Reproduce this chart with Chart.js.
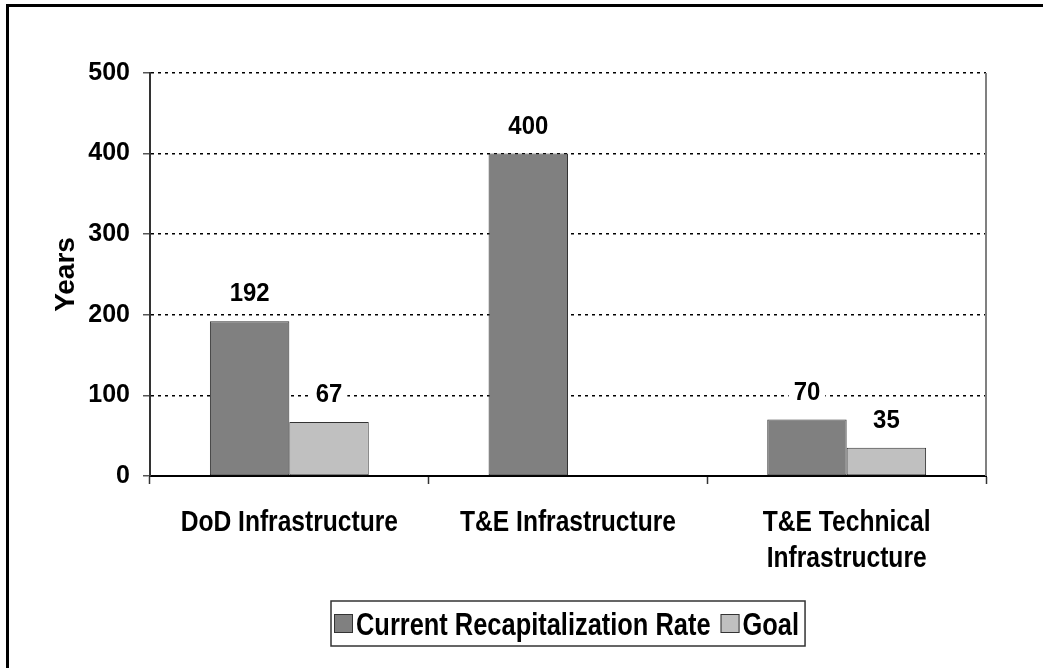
<!DOCTYPE html>
<html>
<head>
<meta charset="utf-8">
<script src="https://cdn.jsdelivr.net/npm/chart.js@4"></script>
<style>
  html, body { margin: 0; padding: 0; background: #fff; }
  #wrap { width: 1043px; height: 668px; position: relative; }
</style>
</head>
<body>
<div id="wrap"><canvas id="myChart" width="1043" height="668"></canvas></div>
<script>
// chart data
const categories = ['DoD Infrastructure', 'T&E Infrastructure', ['T&E Technical', 'Infrastructure']];
const currentRate = [192, 400, 70];
const goalRate = [67, null, 35];
const yTicks = [0, 100, 200, 300, 400, 500];

const fontFamily = "'Liberation Sans', Arial, sans-serif";
const narrowFont = 'bold 30px ' + fontFamily;
const legendFont = 'bold 31px ' + fontFamily;
const squeeze = 0.82; // the original text is a narrow bold face

function narrowText(ctx, text, x, y, align) {
	ctx.save();
	ctx.translate(x, y);
	ctx.scale(squeeze, 1);
	ctx.textAlign = align;
	ctx.fillText(text, 0, 0);
	ctx.restore();
}

// white page with the left and top frame lines, right edge of the plot
const framePlugin = {
	id: 'frame',
	beforeDraw(chart) {
		const ctx = chart.ctx;
		ctx.save();
		ctx.fillStyle = '#fff';
		ctx.fillRect(0, 0, chart.width, chart.height);
		ctx.fillStyle = '#000';
		ctx.fillRect(6, 4, 3, chart.height);
		ctx.fillRect(6, 4, chart.width, 3);
		ctx.restore();
	},
	afterDraw(chart) {
		const ctx = chart.ctx;
		const area = chart.chartArea;
		ctx.save();
		ctx.strokeStyle = '#808080';
		ctx.lineWidth = 2;
		ctx.beginPath();
		ctx.moveTo(area.right, area.top);
		ctx.lineTo(area.right, area.bottom);
		ctx.stroke();
		ctx.restore();
	}
};

// category names under the x axis, narrow face
const categoryLabels = {
	id: 'categoryLabels',
	afterDraw(chart) {
		const ctx = chart.ctx;
		const xs = chart.scales.x;
		const base = chart.chartArea.bottom;
		ctx.save();
		ctx.font = narrowFont;
		ctx.fillStyle = '#000';
		ctx.textBaseline = 'alphabetic';
		chart.data.labels.forEach((lab, i) => {
			const lines = Array.isArray(lab) ? lab : [lab];
			const x = xs.getPixelForTick(i);
			lines.forEach((ln, k) => narrowText(ctx, ln, x, base + 55 + k * 36, 'center'));
		});
		ctx.restore();
	}
};

// boxed legend under the axis (tight spacing like the original)
const boxLegend = {
	id: 'boxLegend',
	afterDraw(chart) {
		const ctx = chart.ctx;
		const area = chart.chartArea;
		const sq = 19, gap = 3, itemGap = 10, padL = 3, padR = 6;
		ctx.save();
		ctx.font = legendFont;
		ctx.textBaseline = 'alphabetic';
		const items = chart.data.datasets.map(ds => ({ text: ds.label, color: ds.backgroundColor, w: ctx.measureText(ds.label).width * squeeze }));
		let total = padL + padR;
		items.forEach((it, i) => { total += sq + gap + it.w + (i > 0 ? itemGap : 0); });
		const left = Math.round((area.left + area.right) / 2 - total / 2);
		const top = 601, h = 45, cy = top + h / 2;
		ctx.strokeStyle = '#333';
		ctx.lineWidth = 1.5;
		ctx.strokeRect(left, top, total, h);
		let x = left + padL;
		items.forEach((it, i) => {
			if (i > 0) x += itemGap;
			ctx.fillStyle = it.color;
			ctx.fillRect(x, cy - sq / 2, sq, sq);
			ctx.strokeStyle = '#333';
			ctx.lineWidth = 1;
			ctx.strokeRect(x + 0.5, cy - sq / 2 + 0.5, sq - 1, sq - 1);
			x += sq + gap;
			ctx.fillStyle = '#000';
			narrowText(ctx, it.text, x, cy + 11, 'left');
			x += it.w;
		});
		ctx.restore();
	}
};

// value labels above the bars, on white so the grid is hidden behind them
const valueLabels = {
	id: 'valueLabels',
	afterDatasetsDraw(chart) {
		const ctx = chart.ctx;
		ctx.save();
		ctx.font = 'bold 26px ' + fontFamily;
		ctx.textAlign = 'center';
		ctx.textBaseline = 'middle';
		chart.data.datasets.forEach((ds, i) => {
			chart.getDatasetMeta(i).data.forEach((bar, j) => {
				const v = ds.data[j];
				if (v === null || v === undefined) return;
				const text = String(v);
				const w = ctx.measureText(text).width * 0.92;
				const y = bar.y - 28;
				ctx.fillStyle = '#fff';
				ctx.fillRect(bar.x - w / 2 - 5, y - 14, w + 10, 28);
				ctx.fillStyle = '#000';
				ctx.save();
				ctx.translate(bar.x, y + 1);
				ctx.scale(0.92, 1);
				ctx.fillText(text, 0, 0);
				ctx.restore();
			});
		});
		ctx.restore();
	}
};

const data = {
	labels: categories,
	datasets: [{
		label: 'Current Recapitalization Rate',
		data: currentRate,
		backgroundColor: '#808080',
		borderColor: '#333333',
		borderWidth: 1,
		borderSkipped: false,
		categoryPercentage: 0.57,
		barPercentage: 1.0
	}, {
		label: 'Goal',
		data: goalRate,
		backgroundColor: '#c0c0c0',
		borderColor: '#333333',
		borderWidth: 1,
		borderSkipped: false,
		categoryPercentage: 0.57,
		barPercentage: 1.0
	}]
};

const config = {
	type: 'bar',
	data,
	options: {
		responsive: false,
		animation: false,
		layout: { padding: { left: 0, right: 57, top: 73, bottom: 72 } },
		plugins: {
			tooltip: { enabled: false },
			legend: { display: false }
		},
		scales: {
			x: {
				afterFit(scale) { scale.height = 120; },
				grid: {
					offset: true,
					drawOnChartArea: false,
					drawTicks: true,
					tickLength: 8,
					tickColor: '#333',
					tickWidth: 1.5
				},
				border: { display: true, color: '#000', width: 2 },
				ticks: { display: false, autoSkip: false }
			},
			y: {
				min: 0,
				max: 500,
				afterFit(scale) { scale.width = 150; },
				afterBuildTicks(scale) { scale.ticks = yTicks.map(v => ({ value: v })); },
				grid: {
					color: '#000',
					lineWidth: 1.5,
					drawTicks: true,
					tickLength: 7,
					tickColor: '#555',
					tickWidth: 1.5,
					tickBorderDash: []
				},
				border: { display: true, color: '#333', width: 2, dash: [3, 4] },
				ticks: {
					color: '#000',
					padding: 13,
					font: { family: fontFamily, size: 25, weight: 'bold' }
				},
				title: {
					display: true,
					text: 'Years',
					color: '#000',
					font: { family: fontFamily, size: 28, weight: 'bold' },
					padding: { top: 49, bottom: 0 }
				}
			}
		}
	},
	plugins: [framePlugin, valueLabels, categoryLabels, boxLegend]
};

var myChart = new Chart(document.getElementById('myChart'), config);
</script>
</body>
</html>
